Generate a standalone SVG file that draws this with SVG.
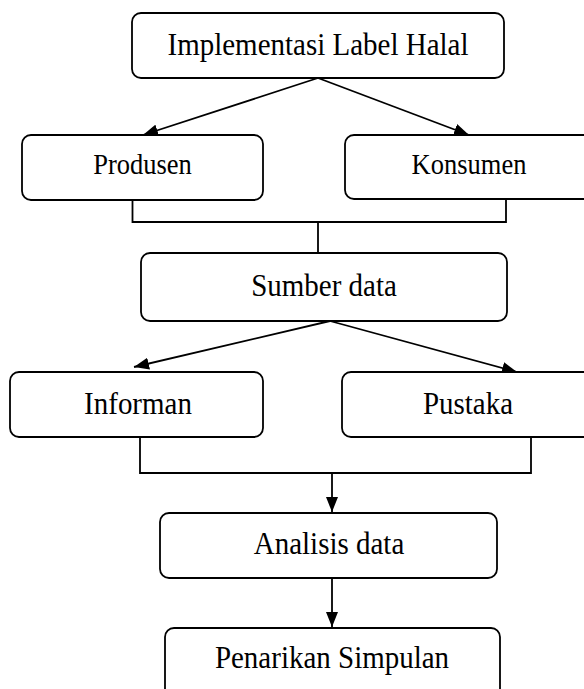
<svg xmlns="http://www.w3.org/2000/svg" width="584" height="689" viewBox="0 0 584 689">
<style>
.box{fill:#fff;stroke:#000;stroke-width:1.8}
.t{font-family:"Liberation Serif","Times New Roman",serif;font-size:29px;fill:#000;text-anchor:middle}
.s{font-size:26.5px}
.c{fill:none;stroke:#000;stroke-width:1.8}
</style>
<defs>
<marker id="ah" markerUnits="userSpaceOnUse" markerWidth="16" markerHeight="12" refX="15" refY="6" orient="auto">
<path d="M0,0 L15,6 L0,12 z" fill="#000"/>
</marker>
</defs>
<rect width="584" height="689" fill="#fff"/>
<g id="connectors">
<line class="c" x1="318" y1="78" x2="143" y2="135" marker-end="url(#ah)"/>
<line class="c" x1="318" y1="78" x2="469" y2="135" marker-end="url(#ah)"/>
<polyline class="c" points="132.5,200 132.5,222 506,222 506,200"/>
<line class="c" x1="318" y1="222" x2="318" y2="253"/>
<line class="c" x1="330" y1="321" x2="134" y2="367" marker-end="url(#ah)"/>
<line class="c" x1="330" y1="321" x2="517" y2="372" marker-end="url(#ah)"/>
<polyline class="c" points="140,437 140,473 531,473 531,437"/>
<line class="c" x1="332" y1="473" x2="332" y2="512" marker-end="url(#ah)"/>
<line class="c" x1="332" y1="579" x2="332" y2="627" marker-end="url(#ah)"/>
</g>
<g id="implementasi">
<rect class="box" x="132" y="13" width="372" height="65" rx="9"/>
<text class="t" transform="translate(318,55) scale(1,1.12)">Implementasi Label Halal</text>
</g>
<g id="produsen">
<rect class="box" x="22" y="135" width="241" height="65" rx="9"/>
<text class="t s" transform="translate(142.5,174) scale(1,1.1)">Produsen</text>
</g>
<g id="konsumen">
<rect class="box" x="345" y="135" width="248" height="64" rx="9"/>
<text class="t s" transform="translate(469,174) scale(1,1.1)">Konsumen</text>
</g>
<g id="sumber">
<rect class="box" x="141" y="253" width="366" height="68" rx="9"/>
<text class="t" transform="translate(324,296) scale(1,1.12)">Sumber data</text>
</g>
<g id="informan">
<rect class="box" x="10" y="372" width="253" height="65" rx="9"/>
<text class="t" transform="translate(138,414) scale(1,1.12)">Informan</text>
</g>
<g id="pustaka">
<rect class="box" x="342" y="372" width="252" height="65" rx="9"/>
<text class="t" transform="translate(468,414) scale(1,1.12)">Pustaka</text>
</g>
<g id="analisis">
<rect class="box" x="160" y="513" width="337" height="65" rx="9"/>
<text class="t" transform="translate(329,554) scale(1,1.12)">Analisis data</text>
</g>
<g id="penarikan">
<rect class="box" x="165" y="628" width="335" height="70" rx="9"/>
<text class="t" transform="translate(332,668) scale(1,1.12)">Penarikan Simpulan</text>
</g>
</svg>
